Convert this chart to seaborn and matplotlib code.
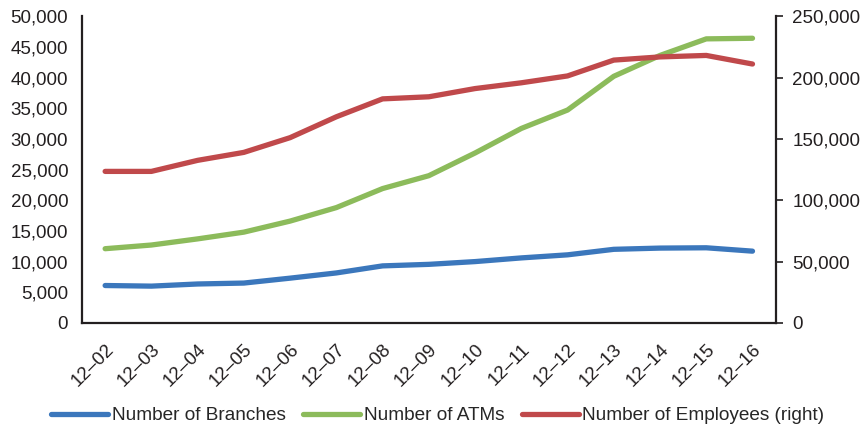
import matplotlib
matplotlib.use("Agg")
import matplotlib.pyplot as plt
import seaborn as sns
import pandas as pd
from matplotlib.ticker import FuncFormatter

periods = ["12–02", "12–03", "12–04", "12–05", "12–06", "12–07", "12–08", "12–09",
           "12–10", "12–11", "12–12", "12–13", "12–14", "12–15", "12–16"]
branches = [6100, 6000, 6350, 6500, 7300, 8150, 9300, 9550, 10000, 10600, 11100,
            12000, 12200, 12250, 11700]
atms = [12100, 12700, 13700, 14800, 16600, 18800, 21900, 24000, 27700, 31700,
        34700, 40200, 43600, 46300, 46400]
employees = [123500, 123500, 132500, 139000, 151000, 168000, 182600, 184300,
             191000, 195700, 201300, 214200, 216800, 218000, 211000]

sns.set_style("white")
plt.rcParams["font.family"] = ["Liberation Sans", "DejaVu Sans"]

df = pd.DataFrame({"x": range(len(periods)), "branches": branches,
                   "atms": atms, "employees": employees})

c_blue = "#3B77BC"
c_green = "#8CBB5B"
c_red = "#C0494B"
lw = 3.8
fs = 13.5

fig = plt.figure(figsize=(8.67, 4.37), dpi=100)
ax = fig.add_axes([0.0946, 0.261, 0.8, 0.702])
ax2 = ax.twinx()

sns.lineplot(data=df, x="x", y="branches", ax=ax, color=c_blue, linewidth=lw,
             label="Number of Branches", legend=False, solid_capstyle="round")
sns.lineplot(data=df, x="x", y="atms", ax=ax, color=c_green, linewidth=lw,
             label="Number of ATMs", legend=False, solid_capstyle="round")
sns.lineplot(data=df, x="x", y="employees", ax=ax2, color=c_red, linewidth=lw,
             label="Number of Employees (right)", legend=False, solid_capstyle="round")

ax.set_xlim(-0.5, len(periods) - 0.5)
ax.set_ylim(0, 50000)
ax2.set_ylim(0, 250000)
ax.set_yticks(range(0, 50001, 5000))
ax2.set_yticks(range(0, 250001, 50000))
fmt = FuncFormatter(lambda v, p: f"{int(v):,}")
ax.yaxis.set_major_formatter(fmt)
ax2.yaxis.set_major_formatter(fmt)

ax.set_xticks(range(len(periods)))
ax.set_xticklabels(periods, rotation=45, ha="right", rotation_mode="anchor")
ax.set_xlabel("")
ax.set_ylabel("")
ax2.set_ylabel("")

for a in (ax, ax2):
    for s in a.spines.values():
        s.set_visible(False)
    a.grid(False)

ax.spines["left"].set_visible(True)
ax.spines["bottom"].set_visible(True)
ax2.spines["right"].set_visible(True)
for s in (ax.spines["left"], ax.spines["bottom"], ax2.spines["right"]):
    s.set_color("#231F20")
    s.set_linewidth(1.6)

ax.tick_params(axis="y", length=0, labelsize=fs, colors="#231F20", pad=10)
ax.tick_params(axis="x", length=0, labelsize=fs, colors="#231F20", pad=13)
ax2.tick_params(axis="y", length=5, width=1.2, direction="out", labelsize=fs,
                colors="#231F20", pad=7)

handles = ax.get_lines()[:2] + ax2.get_lines()[:1]
labels = ["Number of Branches", "Number of ATMs", "Number of Employees (right)"]
fig.legend(handles, labels, loc="lower center", ncol=3, frameon=False,
           bbox_to_anchor=(0.505, -0.01), handlelength=3.0,
           handletextpad=0.2, columnspacing=0.9,
           prop={"family": ["Liberation Sans", "DejaVu Sans"], "size": 13.7})

fig.savefig("out.png", dpi=100)
